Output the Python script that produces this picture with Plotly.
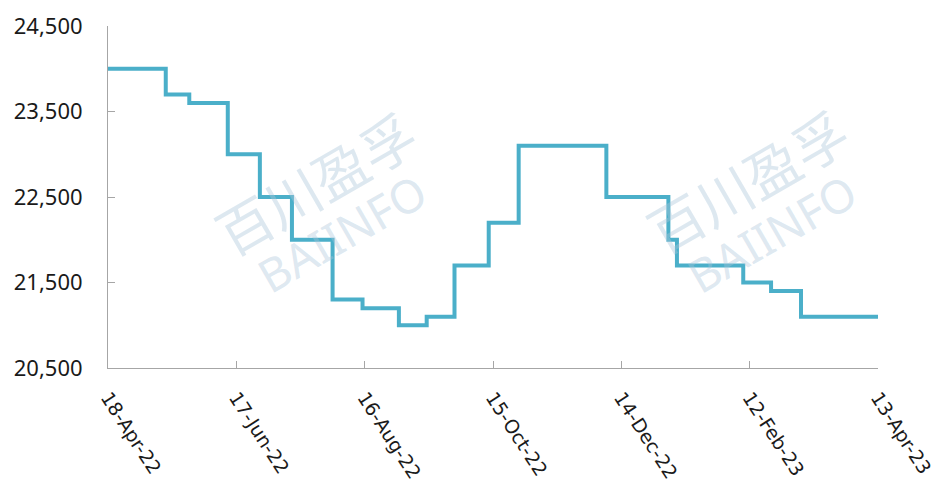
import plotly.graph_objects as go

dates = ["2022-04-18", "2022-05-15", "2022-05-26", "2022-06-13", "2022-06-28",
         "2022-07-13", "2022-08-01", "2022-08-15", "2022-09-01", "2022-09-14",
         "2022-09-27", "2022-10-13", "2022-10-27", "2022-12-07", "2023-01-05",
         "2023-01-09", "2023-02-09", "2023-02-22", "2023-03-08", "2023-04-13"]
prices = [24000, 23700, 23600, 23000, 22500,
          22000, 21300, 21200, 21000, 21100,
          21700, 22200, 23100, 22500, 22000,
          21700, 21500, 21400, 21100, 21100]

x_tickvals = ["2022-04-18", "2022-06-17", "2022-08-16", "2022-10-15",
              "2022-12-14", "2023-02-12", "2023-04-13"]
x_ticktext = ["18-Apr-22", "17-Jun-22", "16-Aug-22", "15-Oct-22",
              "14-Dec-22", "12-Feb-23", "13-Apr-23"]
y_tickvals = [20500, 21500, 22500, 23500, 24500]

LINE = "#4bafc9"
AXIS = "#a6a6a6"
FONT = "Noto Sans"

fig = go.Figure()
fig.add_trace(go.Scatter(
    x=dates, y=prices, mode="lines", line_shape="hv",
    line=dict(color=LINE, width=4), showlegend=False, hoverinfo="x+y"))

wm_color = "rgba(170,198,218,0.40)"
for cx, cy, bx, by in [(0.269, 0.545, 0.303, 0.395), (0.830, 0.55, 0.862, 0.395)]:
    fig.add_annotation(x=cx, y=cy, xref="paper", yref="paper", text="百川盈孚",
                       showarrow=False, textangle=-30, xanchor="center", yanchor="middle",
                       font=dict(family="Noto Sans CJK SC", size=55, color=wm_color))
    fig.add_annotation(x=bx, y=by, xref="paper", yref="paper", text="BAIINFO",
                       showarrow=False, textangle=-30, xanchor="center", yanchor="middle",
                       font=dict(family=FONT, size=46, color=wm_color))

fig.update_layout(
    width=938, height=487,
    margin=dict(l=108, r=60, t=26, b=119),
    paper_bgcolor="white", plot_bgcolor="white",
    font=dict(family=FONT, color="#1a1a1a"),
    xaxis=dict(
        type="date", range=["2022-04-18", "2023-04-13"],
        tickvals=x_tickvals, ticktext=x_ticktext, tickangle=57,
        showgrid=False, zeroline=False, showline=True, linecolor=AXIS, linewidth=1,
        ticks="inside", ticklen=7, tickcolor=AXIS,
        tickfont=dict(family="DejaVu Sans", size=19, color="#1a1a1a"),
        ticklabelstandoff=10, automargin=False, ticklabeloverflow="allow",
    ),
    yaxis=dict(
        range=[20500, 24500], tickvals=y_tickvals, tickformat=",",
        showgrid=False, zeroline=False, showline=True, linecolor=AXIS, linewidth=1,
        ticks="inside", ticklen=7, tickcolor=AXIS,
        tickfont=dict(family=FONT, size=22, color="#1a1a1a"),
        ticklabelstandoff=20, automargin=False, ticklabeloverflow="allow",
    ),
)

fig.write_html("out.html")
